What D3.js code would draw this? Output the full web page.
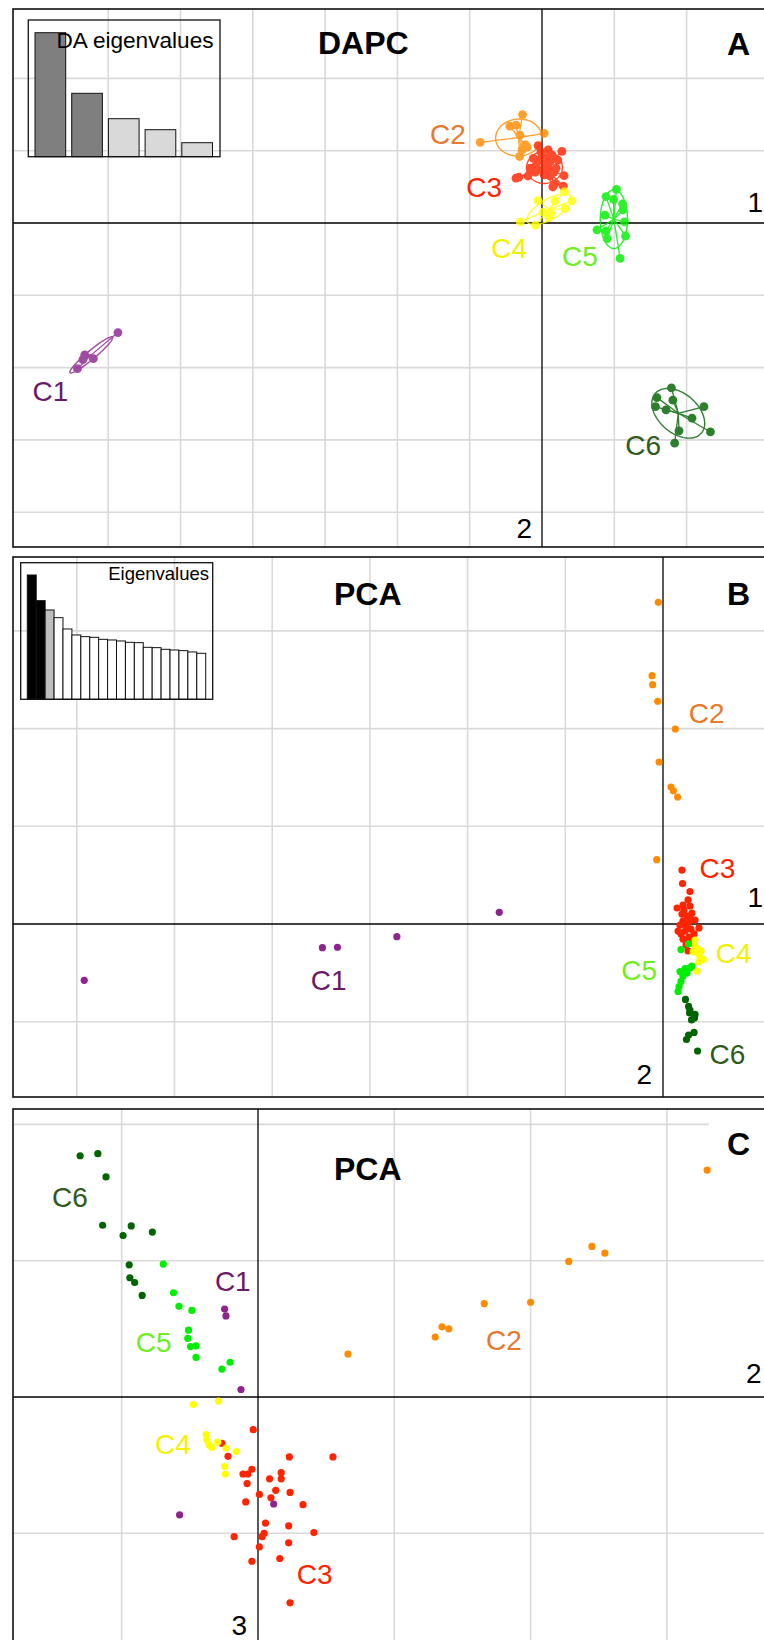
<!DOCTYPE html>
<html>
<head>
<meta charset="utf-8">
<script src="https://cdn.jsdelivr.net/npm/d3@7"></script>
<style>
body { margin: 0; background: #fff; }
svg { display: block; font-family: "Liberation Sans", Arial, Helvetica, sans-serif; }
</style>
</head>
<body>
<svg id="chart" width="764" height="1640"></svg>
<script>
// groups, drawn in this order (C1 last so it sits on top)
const groups = ["C1", "C2", "C3", "C4", "C5", "C6"];
const drawOrder = [1, 2, 3, 4, 5, 0];
const pointColors = ["#8e248e", "#ff8c00", "#ff2400", "#ffff00", "#00ee00", "#006400"];
const labelColors = ["#6b1a6b", "#e8782c", "#ff2400", "#f2f200", "#70ee20", "#2e5a1c"];

// ---- A: DAPC scores (LD1, LD2)
const dapcC1 = [[-11.73,-3.03],[-12.65,-3.65],[-12.41,-3.75],[-12.70,-3.78],[-12.85,-4.03]];
const dapcC2 = [[-1.71,2.23],[-0.54,3.00],[-0.89,2.68],[-0.72,2.71],[-0.61,2.43],[0.06,2.48],
  [-0.46,2.16],[-0.55,2.02],[-0.62,1.84],[-0.41,2.10]];
const dapcC3 = [[-0.72,1.24],[-0.64,1.27],[-0.11,2.14],[0.55,1.98],[0.61,1.31],[0.59,1.02],
  [0.36,1.09],[0.30,1.00],[-0.24,1.79],[-0.06,1.74],[0.08,1.80],[0.22,1.69],[0.17,1.52],
  [0.00,1.47],[-0.17,1.58],[0.06,1.33],[0.22,1.30],[0.39,1.52],[-0.11,1.47],[0.11,1.41],
  [0.28,1.88],[-0.33,1.52],[0.44,1.74],[-0.03,1.96],[0.17,2.02],[-0.19,1.41],[0.33,1.41],
  [0.11,1.63],[-0.39,1.30]];
const dapcC4 = [[-0.60,0.03],[-0.18,-0.06],[-0.11,0.62],[0.36,0.61],[0.62,0.87],[0.83,0.61],
  [0.64,0.40],[0.24,0.26],[0.19,0.15],[0.03,0.30]];
const dapcC5 = [[2.06,0.93],[1.77,0.73],[2.23,0.53],[1.98,0.65],[2.24,0.36],[1.74,0.22],
  [2.28,0.03],[1.52,-0.19],[1.77,-0.22],[1.80,-0.43],[2.31,-0.36],[2.16,-0.98]];
const dapcC6 = [[3.58,-4.56],[3.18,-4.83],[3.62,-4.90],[3.14,-5.08],[3.43,-5.17],[4.48,-5.08],
  [4.15,-5.40],[3.79,-5.75],[4.66,-5.78],[3.67,-6.09]];
const dapcLabels = [[-13.60,-4.65],[-2.60,2.45],[-1.60,0.99],[-0.91,-0.69],[1.05,-0.90],[2.80,-6.13]];
const daEigen = [620, 317, 190, 135, 70];
const dapcGridX = [-12, -10, -8, -6, -4, -2, 2, 4];
const dapcGridY = [4, 2, -2, -4, -6, -8];

// ---- B: PCA scores (PC1, PC2)
const pca12C1 = [[-29.62,-2.88],[-17.43,-1.21],[-16.66,-1.19],[-13.62,-0.65],[-8.38,0.60]];
const pca12C2 = [[-0.24,16.46],[-0.56,12.71],[-0.53,12.25],[-0.27,11.40],[0.63,9.98],
  [-0.20,8.29],[0.41,7.01],[0.53,6.82],[0.75,6.50],[-0.32,3.29]];
const pca12C3 = [[0.97,2.76],[1.00,2.07],[1.38,1.66],[0.72,0.82],[1.02,0.97],[1.28,1.23],
  [1.38,0.92],[0.97,0.51],[1.23,0.41],[1.48,0.56],[1.02,0.15],[1.33,0.10],[1.64,0.20],
  [0.77,-0.36],[1.13,-0.36],[1.43,-0.26],[1.84,-0.20],[1.02,-0.77],[1.33,-0.67],[1.59,-0.51],
  [1.18,-1.07],[1.28,-1.38],[0.87,-0.05],[1.18,-0.10],[1.48,-0.82],[1.07,0.72],[1.38,0.31],
  [0.92,-0.51],[1.23,-0.92]];
const pca12C4 = [[1.64,-0.82],[1.74,-1.23],[1.54,-1.43],[1.84,-1.54],[1.89,-1.69],[2.07,-1.82],
  [1.84,-1.94],[1.74,-2.41],[1.59,-1.07],[1.94,-1.38]];
const pca12C5 = [[1.31,-1.02],[0.92,-1.31],[1.38,-2.25],[1.13,-2.28],[0.87,-2.43],[1.02,-2.66],
  [0.92,-2.94],[0.82,-3.20],[0.77,-3.45],[1.23,-2.51],[1.48,-2.15]];
const pca12C6 = [[1.15,-3.86],[1.31,-4.22],[1.36,-4.55],[1.64,-4.63],[1.46,-4.91],[1.61,-4.81],
  [1.59,-5.55],[1.31,-5.68],[1.20,-5.91],[1.77,-6.50],[1.38,-4.40]];
const pca12Labels = [[-17.11,-2.89],[2.24,10.79],[2.79,2.88],[3.62,-1.49],[-1.22,-2.34],[3.30,-6.64]];
const pcaEigen = [37.3, 29.6, 26.8, 24.5, 21.1, 19.3, 18.8, 18.6, 18.0, 17.8,
  17.5, 17.1, 17.0, 15.6, 15.5, 15.0, 14.8, 14.6, 14.2, 13.8];
const pca12GridX = [-30, -25, -20, -15, -10, -5];
const pca12GridY = [15, 10, 5, -5];

// ---- C: PCA scores (PC3 horizontal, PC2 vertical)
const pca32C1 = [[-0.49,1.29],[-0.47,1.19],[-0.25,0.11],[0.23,-1.57],[-1.15,-1.73]];
const pca32C2 = [[1.32,0.63],[6.59,3.33],[4.90,2.21],[5.09,2.11],[4.56,1.99],[4.00,1.39],
  [3.32,1.37],[2.70,1.03],[2.80,1.00],[2.60,0.88]];
const pca32C3 = [[-0.07,-0.48],[-0.53,-0.68],[-0.44,-0.87],[0.46,-0.88],[1.10,-0.88],[-0.09,-1.06],
  [-0.22,-1.13],[-0.15,-1.13],[0.34,-1.11],[0.34,-1.20],[0.17,-1.20],[-0.16,-1.27],[0.26,-1.37],
  [0.02,-1.43],[0.19,-1.48],[0.47,-1.40],[-0.18,-1.54],[0.66,-1.58],[0.11,-1.85],[0.45,-1.89],
  [0.82,-1.99],[0.09,-2.00],[0.06,-2.05],[-0.35,-2.05],[0.45,-2.14],[0.02,-2.20],[0.32,-2.37],
  [-0.09,-2.41],[0.47,-3.02]];
const pca32C4 = [[-0.58,-0.06],[-0.95,-0.11],[-0.76,-0.55],[-0.75,-0.63],[-0.72,-0.70],[-0.68,-0.74],
  [-0.59,-0.66],[-0.47,-0.75],[-0.32,-0.80],[-0.49,-1.02],[-0.48,-1.13]];
const pca32C5 = [[-1.39,1.95],[-1.24,1.53],[-1.16,1.33],[-0.97,1.27],[-1.02,0.98],[-1.03,0.86],
  [-0.99,0.74],[-0.91,0.75],[-0.91,0.58],[-0.41,0.51],[-0.53,0.41]];
const pca32C6 = [[-2.61,3.54],[-2.35,3.57],[-2.23,3.23],[-2.28,2.52],[-1.86,2.51],[-1.98,2.37],
  [-1.55,2.42],[-1.89,1.94],[-1.88,1.75],[-1.81,1.68],[-1.70,1.49]];
const pca32Labels = [[-0.37,1.70],[3.61,0.83],[0.83,-2.59],[-1.25,-0.69],[-1.53,0.80],[-2.76,2.93]];
const pca32GridX = [-2, 2, 4, 6];
const pca32GridY = [4, 2, -2];

const svg = d3.select("#chart");
const W = 764;

function makeScales(ox, oy, pxPerStep, step) {
  const k = pxPerStep / step;
  return {
    x: d3.scaleLinear().domain([0, 1]).range([ox, ox + k]),
    y: d3.scaleLinear().domain([0, 1]).range([oy, oy - k])
  };
}

// covariance ellipse, as in s.class (cellipse = 1.5)
function ellipsePoints(pts, c) {
  const n = pts.length;
  const mx = d3.mean(pts, d => d[0]), my = d3.mean(pts, d => d[1]);
  let sxx = 0, syy = 0, sxy = 0;
  pts.forEach(([x, y]) => { sxx += (x - mx) ** 2; syy += (y - my) ** 2; sxy += (x - mx) * (y - my); });
  sxx /= n; syy /= n; sxy /= n;
  const tr = sxx + syy, det = sxx * syy - sxy * sxy;
  const disc = Math.sqrt(Math.max(tr * tr / 4 - det, 0));
  const l1 = tr / 2 + disc, l2 = Math.max(tr / 2 - disc, 0);
  const th = Math.abs(sxy) < 1e-12 ? (sxx >= syy ? 0 : Math.PI / 2) : Math.atan2(l1 - sxx, sxy);
  const a = c * Math.sqrt(l1), b = c * Math.sqrt(l2);
  return d3.range(0, 120).map(i => {
    const t = i / 120 * 2 * Math.PI;
    return [mx + a * Math.cos(t) * Math.cos(th) - b * Math.sin(t) * Math.sin(th),
            my + a * Math.cos(t) * Math.sin(th) + b * Math.sin(t) * Math.cos(th)];
  });
}

function drawPanel(p) {
  const g = svg.append("g");
  const s = makeScales(p.ox, p.oy, p.pxStep, p.step);
  const right = W + 10;

  // grid
  g.selectAll(".gx").data(p.gridX).join("line")
    .attr("x1", d => s.x(d)).attr("x2", d => s.x(d))
    .attr("y1", p.top).attr("y2", p.bottom)
    .attr("stroke", "#d9d9d9").attr("stroke-width", 1.6);
  g.selectAll(".gy").data(p.gridY).join("line")
    .attr("x1", p.left).attr("x2", right)
    .attr("y1", d => s.y(d)).attr("y2", d => s.y(d))
    .attr("stroke", "#d9d9d9").attr("stroke-width", 1.6);

  // axes through origin
  g.append("line").attr("x1", p.left).attr("x2", right)
    .attr("y1", s.y(0)).attr("y2", s.y(0)).attr("stroke", "#000").attr("stroke-width", 1.3);
  g.append("line").attr("x1", s.x(0)).attr("x2", s.x(0))
    .attr("y1", p.top).attr("y2", p.bottom).attr("stroke", "#000").attr("stroke-width", 1.3);

  // eigenvalue inset
  if (p.inset) {
    const ins = p.inset;
    const bx = d3.scaleBand().domain(d3.range(ins.values.length))
      .range(ins.barRange).paddingInner(ins.pad).paddingOuter(ins.pad);
    const by = d3.scaleLinear().domain([0, d3.max(ins.values)]).range([ins.y1, ins.barTop]);
    g.selectAll(".bar").data(ins.values).join("rect")
      .attr("x", (d, i) => bx(i)).attr("width", bx.bandwidth())
      .attr("y", d => by(d)).attr("height", d => by(0) - by(d))
      .attr("fill", (d, i) => ins.fills[i] || ins.fills[ins.fills.length - 1])
      .attr("stroke", "#111").attr("stroke-width", 1);
    g.append("rect").attr("x", ins.x0).attr("y", ins.y0)
      .attr("width", ins.x1 - ins.x0).attr("height", ins.y1 - ins.y0)
      .attr("fill", "none").attr("stroke", "#111").attr("stroke-width", 1.3);
    g.append("text").attr("x", ins.tx).attr("y", ins.ty)
      .attr("text-anchor", "end").attr("font-size", ins.fs).attr("fill", "#000")
      .text(ins.title);
  }

  // groups
  const line = d3.line().x(d => s.x(d[0])).y(d => s.y(d[1]));
  drawOrder.forEach(gi => {
    const pts = p.data[gi];
    const col = pointColors[gi];
    const gg = g.append("g").attr("opacity", p.classes ? 0.82 : 1);
    if (p.classes) {
      const cx = d3.mean(pts, d => d[0]), cy = d3.mean(pts, d => d[1]);
      gg.selectAll("line").data(pts).join("line")
        .attr("x1", s.x(cx)).attr("y1", s.y(cy))
        .attr("x2", d => s.x(d[0])).attr("y2", d => s.y(d[1]))
        .attr("stroke", col).attr("stroke-width", 1.3);
      gg.append("path").attr("d", line.curve(d3.curveLinearClosed)(ellipsePoints(pts, 1.5)))
        .attr("fill", "none").attr("stroke", col).attr("stroke-width", 1.4);
    }
    gg.selectAll("circle").data(pts).join("circle")
      .attr("cx", d => s.x(d[0])).attr("cy", d => s.y(d[1]))
      .attr("r", p.r).attr("fill", col);
  });

  // group labels
  g.selectAll(".lab").data(p.labels).join("text")
    .attr("x", d => s.x(d[0])).attr("y", d => s.y(d[1]) + 10)
    .attr("text-anchor", "middle").attr("font-size", 28)
    .attr("fill", (d, i) => labelColors[i])
    .text((d, i) => groups[i]);

  // title
  g.append("text").attr("x", p.titleX).attr("y", p.titleY)
    .attr("font-size", 32).attr("font-weight", "bold").text(p.title);

  // panel letter with white box
  g.append("rect").attr("x", 709).attr("y", p.top + 1)
    .attr("width", 70).attr("height", p.letterY + 10 - p.top).attr("fill", "#fff");
  g.append("text").attr("x", 738.5).attr("y", p.letterY)
    .attr("text-anchor", "middle").attr("font-size", 32).attr("font-weight", "bold")
    .text(p.letter);

  // axis numbers
  p.axisLabels.forEach(a => {
    g.append("text").attr("x", a.x).attr("y", a.y).attr("text-anchor", a.anchor)
      .attr("font-size", 28).text(a.t);
  });

  // frame
  g.append("rect").attr("x", p.left).attr("y", p.top)
    .attr("width", p.frameW).attr("height", p.bottom - p.top)
    .attr("fill", "none").attr("stroke", "#111").attr("stroke-width", 1.6);
}

drawPanel({
  left: 13, top: 9, bottom: 547, frameW: 800,
  ox: 542, oy: 223, pxStep: 72.3, step: 2,
  gridX: dapcGridX, gridY: dapcGridY,
  data: [dapcC1, dapcC2, dapcC3, dapcC4, dapcC5, dapcC6],
  labels: dapcLabels, classes: true, r: 4.4,
  title: "DAPC", titleX: 318, titleY: 53.5,
  letter: "A", letterY: 55,
  axisLabels: [{t: "1", x: 763, y: 212, anchor: "end"}, {t: "2", x: 532, y: 538, anchor: "end"}],
  inset: {values: daEigen, x0: 28.3, x1: 220, y0: 20, y1: 156.7, barTop: 32.7,
          barRange: [29, 218.5], pad: 0.164, fills: ["#7f7f7f", "#7f7f7f", "#d9d9d9"],
          title: "DA eigenvalues", tx: 213.5, ty: 48.3, fs: 22.6}
});

drawPanel({
  left: 13, top: 557, bottom: 1097, frameW: 800,
  ox: 663, oy: 924, pxStep: 97.7, step: 5,
  gridX: pca12GridX, gridY: pca12GridY,
  data: [pca12C1, pca12C2, pca12C3, pca12C4, pca12C5, pca12C6],
  labels: pca12Labels, classes: false, r: 3.6,
  title: "PCA", titleX: 334, titleY: 605,
  letter: "B", letterY: 605,
  axisLabels: [{t: "1", x: 763, y: 907, anchor: "end"}, {t: "2", x: 652, y: 1084, anchor: "end"}],
  inset: {values: pcaEigen, x0: 20.7, x1: 212.7, y0: 562.7, y1: 699.3, barTop: 575,
          barRange: [27.3, 205.7], pad: 0, fills: ["#000", "#000", "#bebebe", "#fff"],
          title: "Eigenvalues", tx: 209, ty: 579.5, fs: 18.5}
});

drawPanel({
  left: 13, top: 1109, bottom: 1700, frameW: 800,
  ox: 258, oy: 1397, pxStep: 136.3, step: 2,
  gridX: pca32GridX, gridY: pca32GridY,
  data: [pca32C1, pca32C2, pca32C3, pca32C4, pca32C5, pca32C6],
  labels: pca32Labels, classes: false, r: 3.6,
  title: "PCA", titleX: 334, titleY: 1180,
  letter: "C", letterY: 1155,
  axisLabels: [{t: "2", x: 746, y: 1383, anchor: "start"}, {t: "3", x: 247, y: 1635, anchor: "end"}]
});
</script>
</body>
</html>
